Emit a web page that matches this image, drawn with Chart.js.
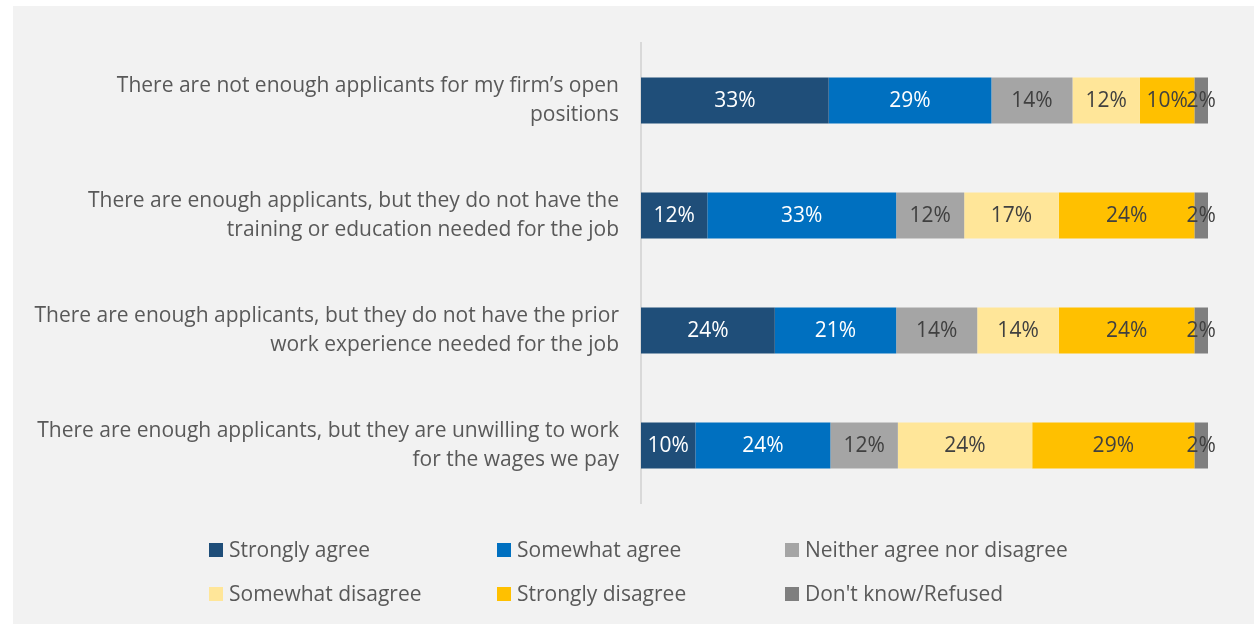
<!DOCTYPE html>
<html>
<head>
<meta charset="utf-8">
<script src="https://cdn.jsdelivr.net/npm/chart.js@4.4.1/dist/chart.umd.min.js"></script>
<style>
  html, body { margin: 0; padding: 0; background: #ffffff; }
  #panel { position: absolute; left: 13px; top: 6px; width: 1241px; height: 618px; background: #f2f2f2; }
  #wrap { position: absolute; left: 0; top: 0; width: 1254px; height: 624px; }
</style>
</head>
<body>
<div id="panel"></div>
<div id="wrap"><canvas id="c" width="1254" height="624"></canvas></div>
<script>
const categories = [
  ["There are not enough applicants for my firm\u2019s open", "positions"],
  ["There are enough applicants, but they do not have the", "training or education needed for the job"],
  ["There are enough applicants, but they do not have the prior", "work experience needed for the job"],
  ["There are enough applicants, but they are unwilling to work", "for the wages we pay"]
];
const seriesNames = ["Strongly agree", "Somewhat agree", "Neither agree nor disagree", "Somewhat disagree", "Strongly disagree", "Don't know/Refused"];
const stronglyAgree    = [33.1, 11.7, 23.6, 9.6];
const somewhatAgree    = [28.7, 33.3, 21.4, 23.8];
const neither          = [14.3, 12.0, 14.3, 11.9];
const somewhatDisagree = [11.9, 16.7, 14.4, 23.7];
const stronglyDisagree = [9.6, 23.9, 23.9, 28.6];
const dontKnow         = [2.4, 2.4, 2.4, 2.4];
const seriesValues = [stronglyAgree, somewhatAgree, neither, somewhatDisagree, stronglyDisagree, dontKnow];
const colors = ["#1f4e79", "#0070c0", "#a5a5a5", "#ffe699", "#ffc000", "#7f7f7f"];
const labelColors = ["#ffffff", "#ffffff", "#404040", "#404040", "#404040", "#404040"];

const FONT = "'Open Sans', sans-serif";

const barLabels = {
  id: 'barLabels',
  afterDatasetsDraw(chart) {
    const ctx = chart.ctx;
    ctx.save();
    ctx.font = "21px " + FONT;
    ctx.textAlign = 'center';
    ctx.textBaseline = 'middle';
    chart.data.datasets.forEach((ds, i) => {
      const meta = chart.getDatasetMeta(i);
      meta.data.forEach((el, j) => {
        const x = (el.x + el.base) / 2;
        ctx.fillStyle = labelColors[i];
        ctx.fillText(Math.round(ds.data[j]) + '%', x, el.y + 1);
      });
    });
    ctx.restore();
  }
};

const customLegend = {
  id: 'customLegend',
  afterDraw(chart) {
    const ctx = chart.ctx;
    ctx.save();
    ctx.font = "21px " + FONT;
    ctx.textBaseline = 'middle';
    ctx.textAlign = 'left';
    const x0 = 209, colW = 288, rows = [550, 594], box = 14;
    chart.data.datasets.forEach((ds, i) => {
      const col = i % 3, row = Math.floor(i / 3);
      const x = x0 + col * colW, y = rows[row];
      ctx.fillStyle = ds.backgroundColor;
      ctx.fillRect(x, y - box / 2, box, box);
      ctx.fillStyle = '#595959';
      ctx.fillText(ds.label, x + box + 6, y + 1);
    });
    ctx.restore();
  }
};

new Chart(document.getElementById('c'), {
  type: 'bar',
  data: {
    labels: categories,
    datasets: seriesNames.map((n, i) => ({
      label: n,
      data: seriesValues[i],
      backgroundColor: colors[i],
      borderWidth: 0,
      barPercentage: 0.4,
      categoryPercentage: 1.0
    }))
  },
  options: {
    indexAxis: 'y',
    responsive: false,
    animation: false,
    layout: { padding: { left: 0, right: 46, top: 43, bottom: 121 } },
    plugins: { legend: { display: false }, tooltip: { enabled: false } },
    scales: {
      x: { stacked: true, min: 0, max: 100, display: false },
      y: {
        stacked: true,
        grid: { display: false, drawTicks: false },
        border: { display: true, color: '#d9d9d9', width: 2 },
        ticks: { color: '#595959', font: { family: FONT, size: 21, lineHeight: 1.38 }, padding: 22 },
        afterFit(scale) { scale.width = 641; scale.paddingTop = 0; scale.paddingBottom = 0; }
      }
    }
  },
  plugins: [barLabels, customLegend]
});
</script>
</body>
</html>
